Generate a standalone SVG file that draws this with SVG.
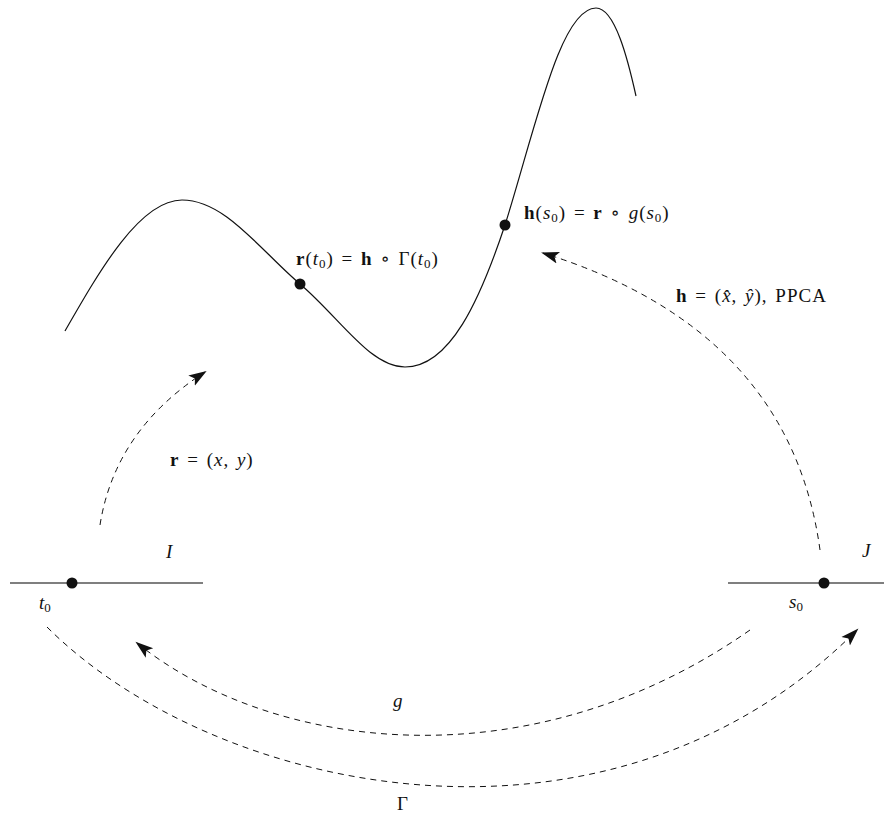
<svg xmlns="http://www.w3.org/2000/svg" width="884" height="819" viewBox="0 0 884 819">
<style>
.t{font-family:"Liberation Serif","DejaVu Serif",serif;font-size:19px;fill:#111}
.f{letter-spacing:1px;word-spacing:2px}
.i{font-style:italic}
.b{font-weight:bold}
.s{font-size:13px}
.d{fill:none;stroke:#111;stroke-width:1;stroke-dasharray:6,5}
.ax{stroke:#555;stroke-width:1.3}
</style>
<defs>
<marker id="ah" markerUnits="userSpaceOnUse" markerWidth="20" markerHeight="14" refX="16" refY="6" orient="auto" viewBox="0 0 20 12">
<path d="M0,0 L18,6 L0,12 L4,6 Z" fill="#111"/>
</marker>
</defs>
<rect width="884" height="819" fill="#fff"/>
<g id="curve">
<path d="M65,331 C100,270 140,200 182,200 C225,200 260,250 300,284 S370,367 405,367 C450,367 480,300 505,225 C535,130 560,8 596,8 C615,8 628,60 636,96" fill="none" stroke="#111" stroke-width="1.2"/>
<circle cx="300" cy="284" r="5.5" fill="#111"/>
<circle cx="505" cy="225" r="5.5" fill="#111"/>
</g>
<g id="intervalI">
<line class="ax" x1="10" y1="583" x2="203" y2="583"/>
<circle cx="72" cy="583" r="5.5" fill="#111"/>
<text class="t i" x="166" y="558">I</text>
<text class="t" x="39" y="609"><tspan class="i">t</tspan><tspan class="s" dy="3">0</tspan></text>
</g>
<g id="intervalJ">
<line class="ax" x1="728" y1="583" x2="884" y2="583"/>
<circle cx="824" cy="583" r="5.5" fill="#111"/>
<text class="t i" x="862" y="557">J</text>
<text class="t" x="789" y="608"><tspan class="i">s</tspan><tspan class="s" dy="3">0</tspan></text>
</g>
<g id="connectors">
<path class="d" d="M100,525 Q115,430 205,372" marker-end="url(#ah)"/>
<path class="d" d="M820,550 Q790,330 543,253" marker-end="url(#ah)"/>
<path class="d" d="M750,630 C527,786 270,750 137,643" marker-end="url(#ah)"/>
<path class="d" d="M47,627 C213,793 606,881 857,630" marker-end="url(#ah)"/>
</g>
<g id="labels">
<text class="t f" x="170" y="466"><tspan class="b">r</tspan> = (<tspan class="i">x</tspan>, <tspan class="i">y</tspan>)</text>
<text class="t f" x="296" y="265"><tspan class="b">r</tspan>(<tspan class="i">t</tspan><tspan class="s" dy="3">0</tspan><tspan dy="-3">) = </tspan><tspan class="b">h</tspan> ∘ Γ(<tspan class="i">t</tspan><tspan class="s" dy="3">0</tspan><tspan dy="-3">)</tspan></text>
<text class="t f" x="524" y="219"><tspan class="b">h</tspan>(<tspan class="i">s</tspan><tspan class="s" dy="3">0</tspan><tspan dy="-3">) = </tspan><tspan class="b">r</tspan> ∘ <tspan class="i">g</tspan>(<tspan class="i">s</tspan><tspan class="s" dy="3">0</tspan><tspan dy="-3">)</tspan></text>
<text class="t f" x="676" y="302"><tspan class="b">h</tspan> = (<tspan class="i">x̂</tspan>, <tspan class="i">ŷ</tspan>), PPCA</text>
<text class="t i" x="393" y="707">g</text>
<text class="t" x="397" y="810">Γ</text>
</g>
</svg>
